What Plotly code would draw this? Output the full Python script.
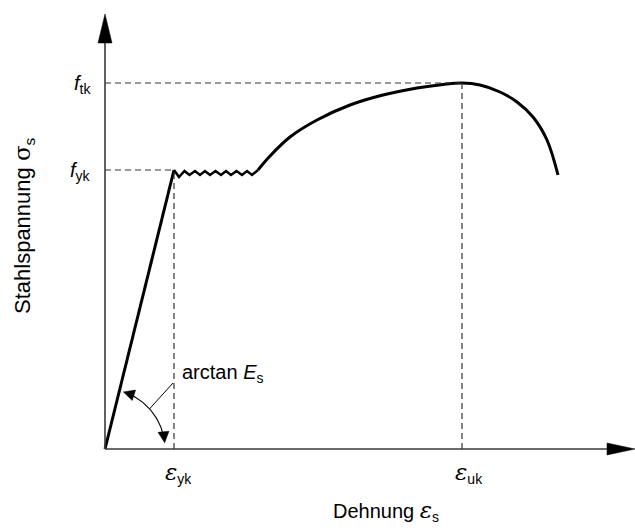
import numpy as np
import plotly.graph_objects as go

# Idealised stress-strain diagram of reinforcing steel (arbitrary units)
eps_yk = 69
eps_uk = 357
f_yk = 279
f_tk = 366

# linear-elastic branch
elastic_eps = [0, 69]
elastic_sig = [0, 279]

# serrated yield plateau
plateau_eps = [69, 74, 79.5, 84.5, 90, 95, 100, 105, 110.5, 116, 121, 126, 131.5, 137, 142, 147, 153]
plateau_sig = [279, 272, 278, 274, 278, 274, 278, 274, 278, 274, 278, 274, 278, 274, 278, 274, 279]

# strain hardening up to the tensile strength, then necking
hardening_eps = [153, 165, 185, 212, 245, 278, 312, 338, 357, 375, 395, 412, 428, 442, 453]
hardening_sig = [279, 293, 312, 329, 344, 354, 361, 364.5, 366, 364, 357, 347, 332, 309, 274]

W, H = 635, 530
X0, Y0 = 105, 449          # origin in page pixels
x_range = [-X0, W - X0]
y_range = [Y0 - H, Y0]

FONT = "Liberation Sans, Arial, sans-serif"
LINE = "#000000"
AXIS = "#3a3a3a"
DASH = "#333333"

fig = go.Figure()

fig.add_trace(go.Scatter(x=elastic_eps, y=elastic_sig, mode="lines",
                         line=dict(color=LINE, width=3), hoverinfo="skip"))
fig.add_trace(go.Scatter(x=plateau_eps, y=plateau_sig, mode="lines",
                         line=dict(color=LINE, width=2.5), hoverinfo="skip"))
fig.add_trace(go.Scatter(x=hardening_eps, y=hardening_sig, mode="lines",
                         line=dict(color=LINE, width=3, shape="spline", smoothing=1.0),
                         hoverinfo="skip"))

# angle arc marking the elastic modulus
r = 60
theta_top = np.degrees(np.arctan2(elastic_sig[1], elastic_eps[1])) - 4
theta_bot = 6
th = np.radians(np.linspace(theta_bot + 5, theta_top - 5, 60))
fig.add_trace(go.Scatter(x=r * np.cos(th), y=r * np.sin(th), mode="lines",
                         line=dict(color=LINE, width=1.1), hoverinfo="skip"))


def arrow_head(tip, direction, length, half_width):
    d = np.asarray(direction, float)
    d /= np.hypot(*d)
    n = np.array([-d[1], d[0]])
    tip = np.asarray(tip, float)
    base = tip - d * length
    p1 = base + n * half_width
    p2 = base - n * half_width
    return (f"M {tip[0]},{tip[1]} L {p1[0]},{p1[1]} L {p2[0]},{p2[1]} Z")


shapes = []
# arc arrowheads
for ang, sgn in ((theta_top, 1), (theta_bot, -1)):
    a = np.radians(ang)
    tip = (r * np.cos(a), r * np.sin(a))
    tangent = (-np.sin(a) * sgn, np.cos(a) * sgn)
    shapes.append(dict(type="path", path=arrow_head(tip, tangent, 11, 5.5),
                       fillcolor=LINE, line=dict(color=LINE, width=0.5),
                       xref="x", yref="y"))

# leader line to the "arctan Es" label
a_lead = np.radians(42)
shapes.append(dict(type="line", x0=r * np.cos(a_lead), y0=r * np.sin(a_lead),
                   x1=68, y1=66, line=dict(color=LINE, width=1), xref="x", yref="y"))

# axes with arrowheads
y_top = Y0 - 14
x_end = W - X0
shapes.append(dict(type="line", x0=0, y0=0, x1=0, y1=y_top - 25,
                   line=dict(color=AXIS, width=1.6), xref="x", yref="y"))
shapes.append(dict(type="line", x0=0, y0=0, x1=x_end - 25, y1=0,
                   line=dict(color=AXIS, width=1.6), xref="x", yref="y"))
shapes.append(dict(type="path", path=arrow_head((0, y_top), (0, 1), 29, 7),
                   fillcolor="#000", line=dict(color="#000", width=0.5),
                   xref="x", yref="y"))
shapes.append(dict(type="path", path=arrow_head((x_end, 0), (1, 0), 28, 6),
                   fillcolor="#000", line=dict(color="#000", width=0.5),
                   xref="x", yref="y"))

# dashed guide lines
dash = dict(color=DASH, width=1.2, dash="6px,4px")
shapes += [
    dict(type="line", x0=0, y0=f_tk, x1=eps_uk, y1=f_tk, line=dash, xref="x", yref="y"),
    dict(type="line", x0=0, y0=f_yk, x1=eps_yk, y1=f_yk, line=dash, xref="x", yref="y"),
    dict(type="line", x0=eps_yk, y0=0, x1=eps_yk, y1=f_yk, line=dash, xref="x", yref="y"),
    dict(type="line", x0=eps_uk, y0=0, x1=eps_uk, y1=f_tk, line=dash, xref="x", yref="y"),
]

txt = dict(family=FONT, size=20, color="#000")
eps = '<span style="font-family:DejaVu Serif;font-size:23px"><i>ε</i></span>'
sigma = '<span style="font-family:DejaVu Serif;font-size:23px">σ</span>'
annotations = [
    dict(x=-12, y=f_tk - 1, text="<i>f</i><sub>tk</sub>", xanchor="right", yanchor="middle"),
    dict(x=-12, y=f_yk - 1, text="<i>f</i><sub>yk</sub>", xanchor="right", yanchor="middle"),
    dict(x=eps_yk + 4, y=-24, text=eps + "<sub>yk</sub>", xanchor="center", yanchor="middle"),
    dict(x=eps_uk + 7, y=-24, text=eps + "<sub>uk</sub>", xanchor="center", yanchor="middle"),
    dict(x=75, y=76, text="arctan <i>E</i><sub>s</sub>", xanchor="left", yanchor="middle"),
    dict(x=281, y=-62, text="Dehnung " + eps + "<sub>s</sub>", xanchor="center", yanchor="middle"),
    dict(x=-82, y=223, text="Stahlspannung " + sigma + "<sub>s</sub>", textangle=-90,
         xanchor="center", yanchor="middle", font=dict(family=FONT, size=22, color="#000")),
]
for a in annotations:
    a.update(xref="x", yref="y", showarrow=False)
    a.setdefault("font", txt)

fig.update_layout(
    width=W, height=H,
    margin=dict(l=0, r=0, t=0, b=0),
    paper_bgcolor="white", plot_bgcolor="white",
    showlegend=False,
    xaxis=dict(range=x_range, visible=False, fixedrange=True),
    yaxis=dict(range=y_range, visible=False, fixedrange=True),
    shapes=shapes,
    annotations=annotations,
)

fig.write_html("out.html")
